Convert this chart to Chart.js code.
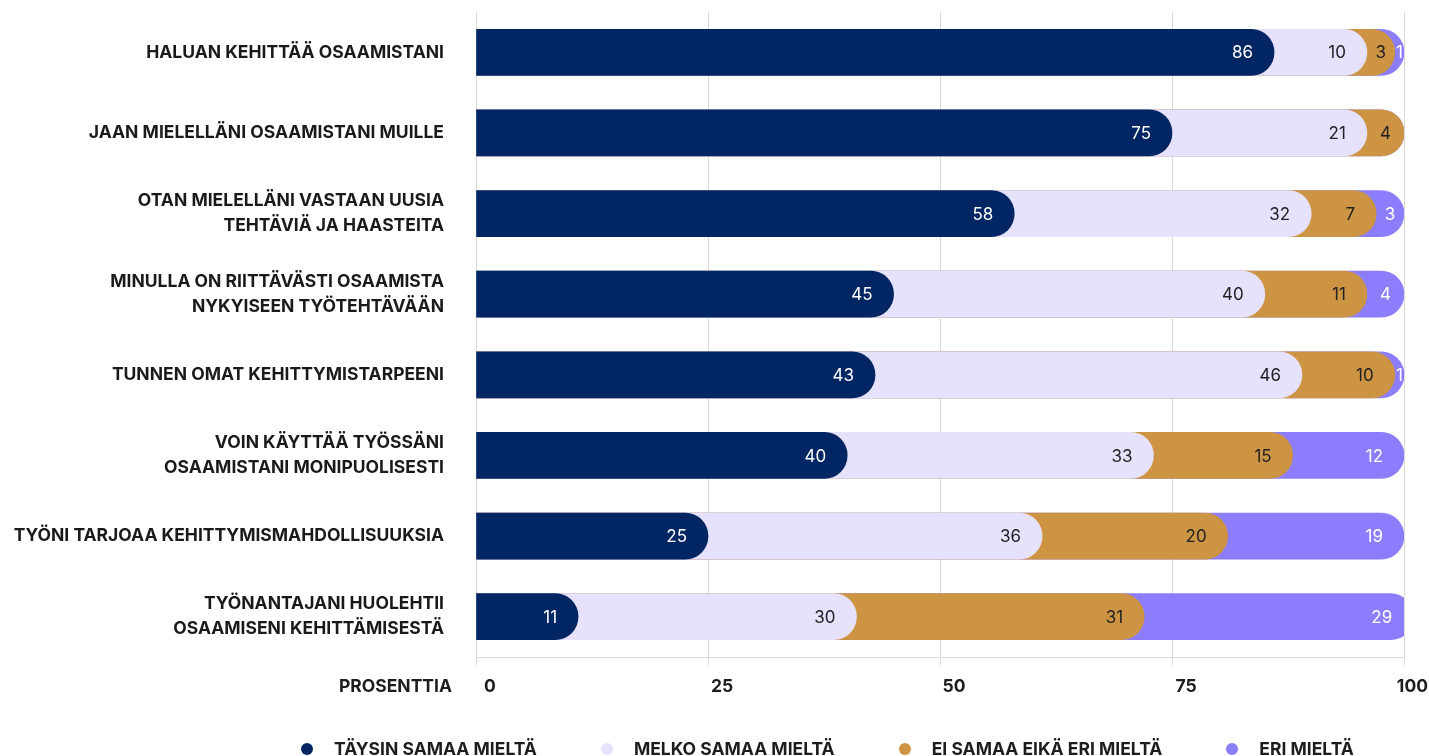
<!DOCTYPE html>
<html>
<head>
<meta charset="utf-8">
<script src="https://cdn.jsdelivr.net/npm/chart.js@4.4.1/dist/chart.umd.min.js"></script>
<style>
  html, body { margin: 0; padding: 0; background: #fff; overflow: hidden; }
  #wrap { position: relative; width: 1429px; height: 756px; }
  #legend {
    position: absolute; left: 301px; top: 738px;
    display: flex; align-items: center;
    font: 700 17.5px Inter, sans-serif; color: #1d1d1f; white-space: nowrap;
  }
  #legend .item { display: flex; align-items: center; margin-right: 64px; }
  #legend .dot { width: 12px; height: 12px; border-radius: 50%; margin-right: 21px; }
</style>
</head>
<body>
<div id="wrap">
  <canvas id="chart" width="1429" height="756"></canvas>
  <div id="legend"></div>
</div>
<script>
// categories (top to bottom)
const categories = [
  ['HALUAN KEHITTÄÄ OSAAMISTANI'],
  ['JAAN MIELELLÄNI OSAAMISTANI MUILLE'],
  ['OTAN MIELELLÄNI VASTAAN UUSIA', 'TEHTÄVIÄ JA HAASTEITA'],
  ['MINULLA ON RIITTÄVÄSTI OSAAMISTA', 'NYKYISEEN TYÖTEHTÄVÄÄN'],
  ['TUNNEN OMAT KEHITTYMISTARPEENI'],
  ['VOIN KÄYTTÄÄ TYÖSSÄNI', 'OSAAMISTANI MONIPUOLISESTI'],
  ['TYÖNI TARJOAA KEHITTYMISMAHDOLLISUUKSIA'],
  ['TYÖNANTAJANI HUOLEHTII', 'OSAAMISENI KEHITTÄMISESTÄ']
];

const seriesNames = ['TÄYSIN SAMAA MIELTÄ', 'MELKO SAMAA MIELTÄ', 'EI SAMAA EIKÄ ERI MIELTÄ', 'ERI MIELTÄ'];

const taysinSamaa = [86, 75, 58, 45, 43, 40, 25, 11];
const melkoSamaa  = [10, 21, 32, 40, 46, 33, 36, 30];
const eiSamaaEika = [3, 4, 7, 11, 10, 15, 20, 31];
const eriMielta   = [1, 0, 3, 4, 1, 12, 19, 29];

const xTicks = [0, 25, 50, 75, 100];
const axisTitle = 'PROSENTTIA';

const seriesValues = [taysinSamaa, melkoSamaa, eiSamaaEika, eriMielta];
const colors = ['#012663', '#e6e1fc', '#cd9543', '#8b7dfb'];
const labelColors = ['#ffffff', '#222222', '#222222', '#ffffff'];

// each segment is drawn as a bar from 0 to the running total, front one on top
const running = categories.map(() => 0);
const datasets = seriesValues.map((vals, i) => ({
  label: seriesNames[i],
  data: vals.map((v, j) => (running[j] += v)),
  backgroundColor: colors[i],
  borderRadius: 30,
  borderSkipped: 'start',
  barThickness: 46,
  grouped: false
}));

const valueLabels = {
  id: 'valueLabels',
  afterDatasetsDraw(chart) {
    const ctx = chart.ctx;
    ctx.save();
    ctx.font = '400 17px Inter, sans-serif';
    ctx.textAlign = 'center';
    ctx.textBaseline = 'middle';
    seriesValues.forEach((vals, i) => {
      const meta = chart.getDatasetMeta(i);
      meta.data.forEach((bar, j) => {
        const v = vals[j];
        if (!v) return;
        const prev = i > 0 ? chart.getDatasetMeta(i - 1).data[j].x : bar.base;
        const txt = String(v);
        const w = ctx.measureText(txt).width;
        const cx = Math.max(bar.x - 21 - w / 2, (prev + bar.x) / 2);
        ctx.fillStyle = labelColors[i];
        ctx.fillText(txt, cx, bar.y + 1);
      });
    });
    ctx.restore();
  }
};

const xLabels = {
  id: 'xLabels',
  afterDraw(chart) {
    const ctx = chart.ctx;
    const sx = chart.scales.x;
    const y = 687;
    ctx.save();
    ctx.font = '700 17.5px Inter, sans-serif';
    ctx.fillStyle = '#1d1d1f';
    ctx.textBaseline = 'middle';
    ctx.textAlign = 'right';
    ctx.fillText(axisTitle, 452, y);
    ctx.textAlign = 'center';
    xTicks.forEach(t => {
      const txt = String(t);
      const w = ctx.measureText(txt).width;
      const cx = Math.min(sx.getPixelForValue(t) + 14, chart.width - 1 - w / 2);
      ctx.fillText(txt, cx, y);
    });
    ctx.restore();
  }
};

new Chart(document.getElementById('chart'), {
  type: 'bar',
  data: { labels: categories, datasets },
  options: {
    indexAxis: 'y',
    responsive: false,
    animation: false,
    layout: { padding: { top: 12, right: 25, left: 0, bottom: 0 } },
    plugins: { legend: { display: false }, tooltip: { enabled: false } },
    scales: {
      x: {
        min: 0, max: 100,
        ticks: { stepSize: 25, display: false },
        grid: { color: '#d9d9d9', tickLength: 8, lineWidth: 1 },
        border: { color: '#d9d9d9' },
        afterFit(scale) { scale.height = 99; }
      },
      y: {
        grid: { display: false },
        border: { display: false },
        ticks: {
          color: '#1a1a1a',
          font: { family: 'Inter', weight: '700', size: 17.5, lineHeight: 1.43 },
          padding: 24
        },
        afterFit(scale) {
          scale.width = 476;
          scale.paddingTop = 0;
          scale.paddingBottom = 0;
        }
      }
    }
  },
  plugins: [valueLabels, xLabels]
});

const legend = document.getElementById('legend');
seriesNames.forEach((name, i) => {
  const item = document.createElement('div');
  item.className = 'item';
  item.innerHTML = `<span class="dot" style="background:${colors[i]}"></span><span>${name}</span>`;
  legend.appendChild(item);
});
</script>
</body>
</html>
